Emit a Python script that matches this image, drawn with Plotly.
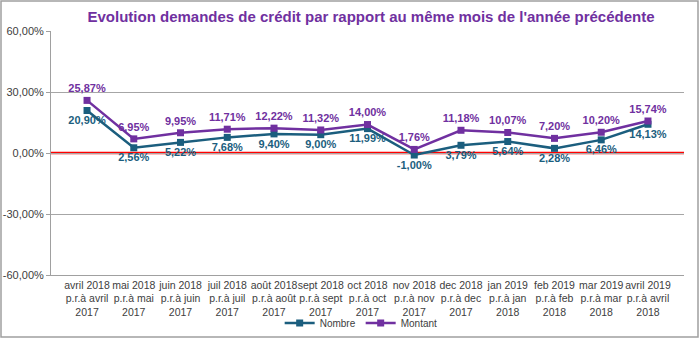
import plotly.graph_objects as go

categories = [
    "avril 2018<br>p.r.à avril<br>2017",
    "mai 2018<br>p.r.à mai<br>2017",
    "juin 2018<br>p.r.à juin<br>2017",
    "juil 2018<br>p.r.à juil<br>2017",
    "août 2018<br>p.r.à août<br>2017",
    "sept 2018<br>p.r.à sept<br>2017",
    "oct 2018<br>p.r.à oct<br>2017",
    "nov 2018<br>p.r.à nov<br>2017",
    "dec 2018<br>p.r.à dec<br>2017",
    "jan 2019<br>p.r.à jan<br>2018",
    "feb 2019<br>p.r.à feb<br>2018",
    "mar 2019<br>p.r.à mar<br>2018",
    "avril 2019<br>p.r.à avril<br>2018",
]
nombre = [20.90, 2.56, 5.22, 7.68, 9.40, 9.00, 11.99, -1.00, 3.79, 5.64, 2.28, 6.46, 14.13]
montant = [25.87, 6.95, 9.95, 11.71, 12.22, 11.32, 14.00, 1.76, 11.18, 10.07, 7.20, 10.20, 15.74]
y_ticks = [-60, -30, 0, 30, 60]
y_ticktext = [f"{v:.2f}%".replace(".", ",") for v in y_ticks]

title_text = "Evolution demandes de crédit par rapport au même mois de l'année précédente"
c_nombre = "#1B5E7E"
c_montant = "#7030A0"
font_fam = "Liberation Sans, Arial, sans-serif"

fig = go.Figure()
fig.add_trace(go.Scatter(
    x=categories, y=nombre, name="Nombre", mode="lines+markers+text",
    line=dict(color=c_nombre, width=2.5),
    marker=dict(symbol="square", size=7, color=c_nombre),
    texttemplate="%{y:.2f}%", textposition="bottom center",
    textfont=dict(color=c_nombre, size=11, family=font_fam, weight="bold"),
    cliponaxis=False,
))
fig.add_trace(go.Scatter(
    x=categories, y=montant, name="Montant", mode="lines+markers+text",
    line=dict(color=c_montant, width=2.5),
    marker=dict(symbol="square", size=7, color=c_montant),
    texttemplate="%{y:.2f}%", textposition="top center",
    textfont=dict(color=c_montant, size=11, family=font_fam, weight="bold"),
    cliponaxis=False,
))

L, R, T, B = 51, 16, 31, 64
W, H = 700, 339
pw, ph = W - L - R, H - T - B

fig.update_layout(
    width=W, height=H,
    margin=dict(l=L, r=R, t=T, b=B, autoexpand=False),
    paper_bgcolor="white", plot_bgcolor="white",
    separators=", ",
    font=dict(family=font_fam, size=11, color="#404040"),
    title=dict(text="<b>" + title_text + "</b>", x=0.53, xanchor="center",
               y=1 - 17 / H, yanchor="middle",
               font=dict(size=15, color=c_montant, family=font_fam)),
    showlegend=True,
    legend=dict(orientation="h", x=0.49, xanchor="center", y=-(323 - 275) / ph, yanchor="middle",
                font=dict(size=10, color="#404040"), tracegroupgap=0,
                bgcolor="rgba(0,0,0,0)"),
    xaxis=dict(showgrid=False, showline=True, linecolor="#A0A0A0", linewidth=1,
               ticks="", tickangle=0, automargin=False,
               tickfont=dict(size=10.5, color="#404040"), fixedrange=True),
    yaxis=dict(range=[-60, 60], tickvals=y_ticks, ticktext=y_ticktext, automargin=False,
               showgrid=True, gridcolor="#A6A6A6", gridwidth=1,
               showline=True, linecolor="#A0A0A0", linewidth=1,
               zeroline=False, ticks="outside", ticklen=4, tickcolor="#A0A0A0",
               tickfont=dict(size=11, color="#404040")),
)

fig.add_shape(type="line", xref="paper", yref="y", x0=0, x1=1, y0=0, y1=0,
              line=dict(color="#FF0000", width=2.5), layer="between")
fig.add_shape(type="rect", xref="paper", yref="paper",
              x0=(1 - L) / pw, x1=(W - 2 - L) / pw,
              y0=-(H - 2 - (T + ph)) / ph, y1=(T + ph - 1) / ph,
              line=dict(color="#A0A0A0", width=1.5))

fig.write_html("out.html")
